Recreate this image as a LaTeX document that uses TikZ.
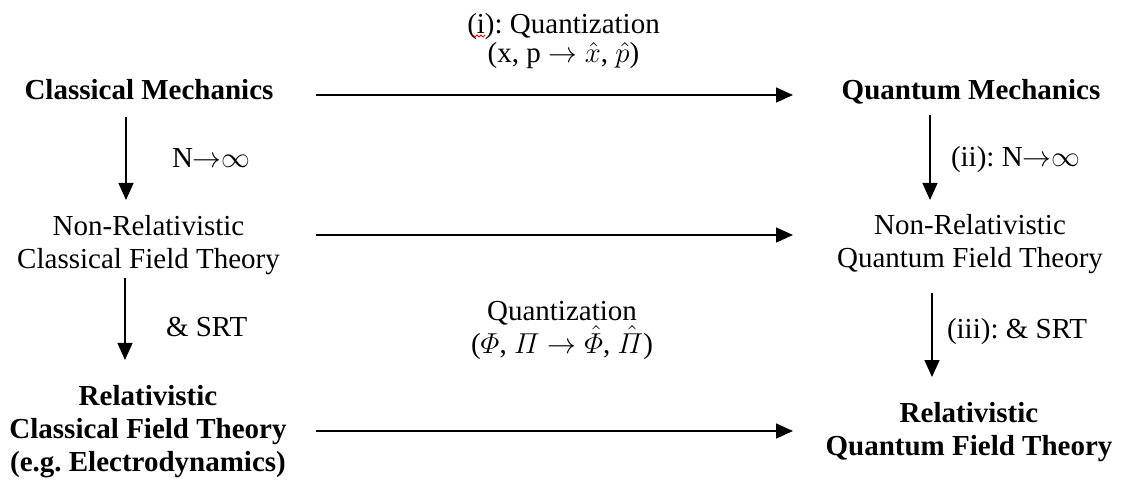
\documentclass[tikz,border=0pt]{standalone}
\usepackage{amsmath}
\usepackage{fontspec}
\setmainfont{Liberation Serif}
\frenchspacing
\usetikzlibrary{arrows.meta,calc}
\tikzset{
  lbl/.style={inner sep=0pt, outer sep=0pt, font=\fontsize{14.5pt}{16.5pt}\selectfont\frenchspacing, align=center, anchor=base},
  bbox/.style={lbl, font=\fontsize{14.5pt}{16.5pt}\selectfont\frenchspacing\bfseries},
  side/.style={inner sep=0pt, outer sep=0pt, font=\fontsize{14.5pt}{16.5pt}\selectfont\frenchspacing, anchor=base west},
  arr/.style={line width=0.65pt, -{Triangle[length=8.5pt,width=7.5pt]}},
}
\begin{document}
\begin{tikzpicture}[x=0.5pt,y=-0.5pt]
\useasboundingbox (0,0) rectangle (1121,481);
% boxes (anchor = baseline of the last line)
\node[bbox] (cm)  at (149,100)   {Classical Mechanics};
\node[bbox] (qm)  at (971,100)   {Quantum Mechanics};
\node[lbl]  (ncf) at (148.5,268.3) {Non-Relativistic\\Classical Field Theory};
\node[lbl]  (nqf) at (970,267.5) {Non-Relativistic\\Quantum Field Theory};
\node[bbox] (ccf) at (148,471.7) {Relativistic\\Classical Field Theory\\(e.g. Electrodynamics)};
\node[bbox] (rqf) at (969,455) {Relativistic\\Quantum Field Theory};
% labels
\node[lbl] (q1) at (563.5,63) {(i): Quantization\\[-2pt](x, p $\rightarrow \hat{x}$, $\hat{p}$)};
\node[lbl] (q2) at (562,353) {Quantization\\($\varPhi$, $\varPi \rightarrow \hat{\varPhi}$, $\hat{\varPi}$)};
\node[side] (l1) at (172,168) {N${\rightarrow}\infty$};
\node[side] (l2) at (166,336.7) {\& SRT};
\node[side] (l3) at (951,167) {(ii): N${\rightarrow}\infty$};
\node[side] (l4) at (947,338) {(iii): \& SRT};
% helper columns
\coordinate (hL) at (316,0);
\coordinate (hR) at (793,0);
\coordinate (vL) at (126,0);
\coordinate (vR) at (931,0);
% horizontal arrows
\draw[arr] ($(cm.base -| hL)+(0,-5)$) -- ($(qm.base -| hR)+(0,-5)$);
\draw[arr] ($(ncf.base -| hL)+(0,-33.3)$) -- ($(nqf.base -| hR)+(0,-32.5)$);
\draw[arr] ($(ccf.base -| hL)+(0,-40.7)$) -- ($(rqf.base -| hR)+(0,-24)$);
% vertical arrows
\draw[arr] ($(cm.base -| vL)+(0,17)$) -- ($(ncf.base -| vL)+(0,-68.3)$);
\draw[arr] ($(ncf.base -| vL)+(-1,9.7)$) -- ($(ccf.base -| vL)+(-1,-111.7)$);
\draw[arr] ($(qm.base -| vR)+(-1,15)$) -- ($(nqf.base -| vR)+(-1,-67.5)$);
\draw[arr] ($(nqf.base -| vR)+(1,25.5)$) -- ($(rqf.base -| vR)+(1,-78)$);
% spell-check squiggle
\draw[red, line width=0.5pt] (473,35) -- (475,37) -- (477,35) -- (479,37) -- (481,35) -- (483,37) -- (485,35);
\end{tikzpicture}
\end{document}
